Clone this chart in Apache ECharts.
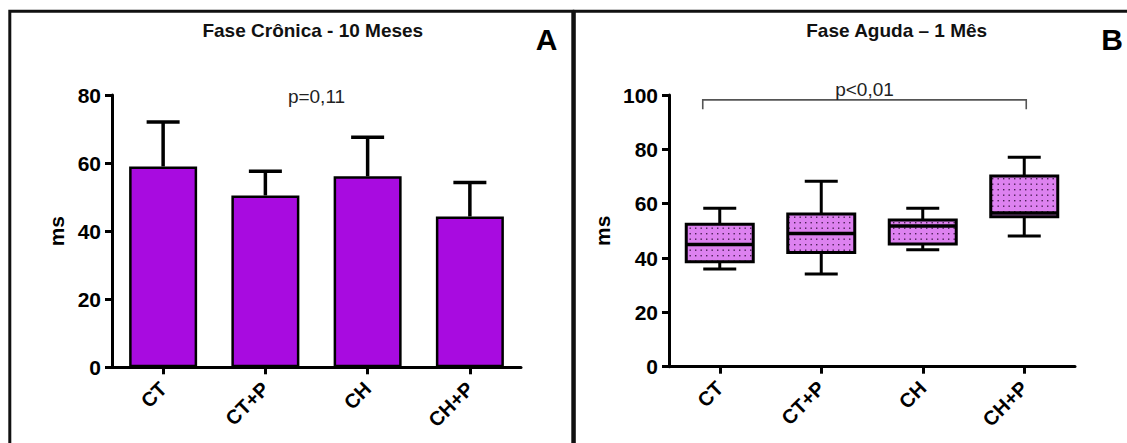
<!DOCTYPE html>
<html>
<head>
<meta charset="utf-8">
<script src="https://cdn.jsdelivr.net/npm/echarts@6/dist/echarts.min.js"></script>
<style>
  html, body { margin: 0; padding: 0; background: #fff; }
  #chart { width: 1127px; height: 443px; }
</style>
</head>
<body>
<div id="chart"></div>
<script>
// grupos
const grupos = ['CT', 'CT+P', 'CH', 'CH+P'];

// Fase Crônica - 10 meses (média + desvio)
const cronicaMedia = [59.0, 50.5, 56.1, 44.3];
const cronicaDesvio = [13.1, 7.1, 11.5, 10.0];
const ticksCronica = [0, 20, 40, 60, 80];
const pCronica = 'p=0,11';
const pCronicaNivel = 79.7;

// Fase Aguda - 1 mês (boxplot)
const agudaMin = [36.0, 34.1, 43.0, 48.1];
const agudaQ1 = [38.6, 42.0, 45.2, 55.2];
const agudaMediana = [45.0, 49.0, 51.8, 56.6];
const agudaQ3 = [52.4, 56.2, 54.0, 70.2];
const agudaMax = [58.3, 68.3, 58.3, 77.1];
const ticksAguda = [0, 20, 40, 60, 80, 100];
const pAguda = 'p<0,01';
const pAgudaNivel = 98.2;
const pAgudaPerna = 94.8;

const FONT = 'Arial, "Liberation Sans", sans-serif';

// padrão pontilhado das caixas
const tile = document.createElement('canvas');
tile.width = 11;
tile.height = 11;
const tctx = tile.getContext('2d');
tctx.fillStyle = '#dd82f0';
tctx.fillRect(0, 0, 11, 11);
tctx.fillStyle = '#4b1f55';
[[2, 2], [7.5, 2], [2, 7.5], [7.5, 7.5]].forEach(p => tctx.fillRect(p[0], p[1], 1.4, 1.4));
const pontilhado = { image: tile, repeat: 'repeat', imageWidth: 11, imageHeight: 11 };

const eixoY = (ticks, gap, idx) => ({
  type: 'value',
  gridIndex: idx,
  min: ticks[0],
  max: ticks[ticks.length - 1],
  interval: ticks[1] - ticks[0],
  name: 'ms',
  nameLocation: 'middle',
  nameGap: gap,
  nameRotate: 90,
  nameTextStyle: { fontSize: 21, fontWeight: 'bold', color: '#000', fontFamily: FONT },
  axisLine: { show: true, lineStyle: { color: '#000', width: 3 } },
  axisTick: { show: true, length: 7, lineStyle: { color: '#000', width: 3 } },
  axisLabel: { fontSize: 21, fontWeight: 'bold', color: '#000', margin: 11, fontFamily: FONT },
  splitLine: { show: false }
});

const eixoX = (idx) => ({
  type: 'category',
  gridIndex: idx,
  data: grupos,
  axisLine: { show: true, lineStyle: { color: '#000', width: 3 } },
  axisTick: { show: true, alignWithLabel: true, length: 7, lineStyle: { color: '#000', width: 3 } },
  axisLabel: { rotate: 45, interval: 0, fontSize: 20, fontWeight: 'bold', color: '#000', margin: 18, fontFamily: FONT }
});

const chart = echarts.init(document.getElementById('chart'), null, { renderer: 'svg' });

const option = {
  animation: false,
  backgroundColor: '#fff',
  grid: [
    { left: 112, top: 95, width: 409, height: 272.3 },
    { left: 669, top: 95, width: 406, height: 271.7 }
  ],
  xAxis: [eixoX(0), eixoX(1)],
  yAxis: [eixoY(ticksCronica, 45, 0), eixoY(ticksAguda, 56, 1)],
  graphic: [
    { type: 'rect', shape: { x: 9.8, y: 11.3, width: 563, height: 500 }, style: { fill: 'none', stroke: '#111', lineWidth: 3 }, silent: true },
    { type: 'rect', shape: { x: 574.3, y: 11.3, width: 600, height: 500 }, style: { fill: 'none', stroke: '#111', lineWidth: 3 }, silent: true },
    { type: 'text', x: 312.8, y: 30, style: { text: 'Fase Crônica - 10 Meses', font: 'bold 19px ' + FONT, fill: '#111', align: 'center', verticalAlign: 'middle' } },
    { type: 'text', x: 896.7, y: 30, style: { text: 'Fase Aguda – 1 Mês', font: 'bold 19px ' + FONT, fill: '#111', align: 'center', verticalAlign: 'middle' } },
    { type: 'text', x: 546.7, y: 39, style: { text: 'A', font: 'bold 30px ' + FONT, fill: '#000', align: 'center', verticalAlign: 'middle' } },
    { type: 'text', x: 1112, y: 39, style: { text: 'B', font: 'bold 30px ' + FONT, fill: '#000', align: 'center', verticalAlign: 'middle' } }
  ],
  series: [
    {
      type: 'bar',
      xAxisIndex: 0,
      yAxisIndex: 0,
      data: cronicaMedia,
      barWidth: 68,
      itemStyle: { color: '#a80be0', borderColor: '#000', borderWidth: 2.5 },
      z: 3
    },
    {
      // barras de erro (média + desvio)
      type: 'custom',
      xAxisIndex: 0,
      yAxisIndex: 0,
      data: grupos.map((g, i) => [i, cronicaMedia[i], cronicaMedia[i] + cronicaDesvio[i]]),
      encode: { x: 0, y: [1, 2] },
      z: 2,
      renderItem: (params, api) => {
        const base = api.coord([api.value(0), api.value(1)]);
        const topo = api.coord([api.value(0), api.value(2)]);
        const st = { stroke: '#000', lineWidth: 3.5 };
        return {
          type: 'group',
          children: [
            { type: 'line', shape: { x1: base[0], y1: base[1], x2: topo[0], y2: topo[1] }, style: st },
            { type: 'line', shape: { x1: topo[0] - 16.5, y1: topo[1], x2: topo[0] + 16.5, y2: topo[1] }, style: st }
          ]
        };
      }
    },
    {
      // valor de p - fase crônica
      type: 'custom',
      xAxisIndex: 0,
      yAxisIndex: 0,
      data: [[1, 2, pCronicaNivel]],
      encode: { x: [0, 1], y: 2 },
      renderItem: (params, api) => {
        const a = api.coord([api.value(0), api.value(2)]);
        const b = api.coord([api.value(1), api.value(2)]);
        return {
          type: 'text',
          style: { text: pCronica, x: (a[0] + b[0]) / 2, y: a[1], font: '19px ' + FONT, fill: '#222', align: 'center', verticalAlign: 'middle' }
        };
      }
    },
    {
      // boxplot - fase aguda
      type: 'custom',
      xAxisIndex: 1,
      yAxisIndex: 1,
      data: grupos.map((g, i) => [i, agudaMin[i], agudaQ1[i], agudaMediana[i], agudaQ3[i], agudaMax[i]]),
      encode: { x: 0, y: [1, 2, 3, 4, 5] },
      renderItem: (params, api) => {
        const i = api.value(0);
        const pMin = api.coord([i, api.value(1)]);
        const pQ1 = api.coord([i, api.value(2)]);
        const pMed = api.coord([i, api.value(3)]);
        const pQ3 = api.coord([i, api.value(4)]);
        const pMax = api.coord([i, api.value(5)]);
        const x = pMin[0];
        const hw = 33.5;
        const cw = 16.5;
        const st = { stroke: '#000', lineWidth: 3 };
        return {
          type: 'group',
          children: [
            { type: 'line', shape: { x1: x, y1: pQ3[1], x2: x, y2: pMax[1] }, style: st },
            { type: 'line', shape: { x1: x - cw, y1: pMax[1], x2: x + cw, y2: pMax[1] }, style: st },
            { type: 'line', shape: { x1: x, y1: pQ1[1], x2: x, y2: pMin[1] }, style: st },
            { type: 'line', shape: { x1: x - cw, y1: pMin[1], x2: x + cw, y2: pMin[1] }, style: st },
            { type: 'rect', shape: { x: x - hw, y: pQ3[1], width: hw * 2, height: pQ1[1] - pQ3[1] }, style: { fill: pontilhado, stroke: '#000', lineWidth: 3 } },
            { type: 'line', shape: { x1: x - hw, y1: pMed[1], x2: x + hw, y2: pMed[1] }, style: { stroke: '#000', lineWidth: 3.5 } }
          ]
        };
      }
    },
    {
      // colchete de significância - fase aguda
      type: 'custom',
      xAxisIndex: 1,
      yAxisIndex: 1,
      data: [[0, 3, pAgudaNivel, pAgudaPerna]],
      encode: { x: [0, 1], y: [2, 3] },
      renderItem: (params, api) => {
        const a = api.coord([api.value(0), api.value(2)]);
        const b = api.coord([api.value(1), api.value(2)]);
        const perna = api.coord([api.value(0), api.value(3)]);
        const x1 = a[0] - 17;
        const x2 = b[0] + 2;
        const st = { stroke: '#555', lineWidth: 1.6, fill: 'none' };
        return {
          type: 'group',
          children: [
            { type: 'polyline', shape: { points: [[x1, perna[1]], [x1, a[1]], [x2, a[1]], [x2, perna[1]]] }, style: st },
            { type: 'text', style: { text: pAguda, x: (x1 + x2) / 2, y: a[1] - 10, font: '19px ' + FONT, fill: '#222', align: 'center', verticalAlign: 'middle' } }
          ]
        };
      }
    }
  ]
};

chart.setOption(option);
</script>
</body>
</html>
